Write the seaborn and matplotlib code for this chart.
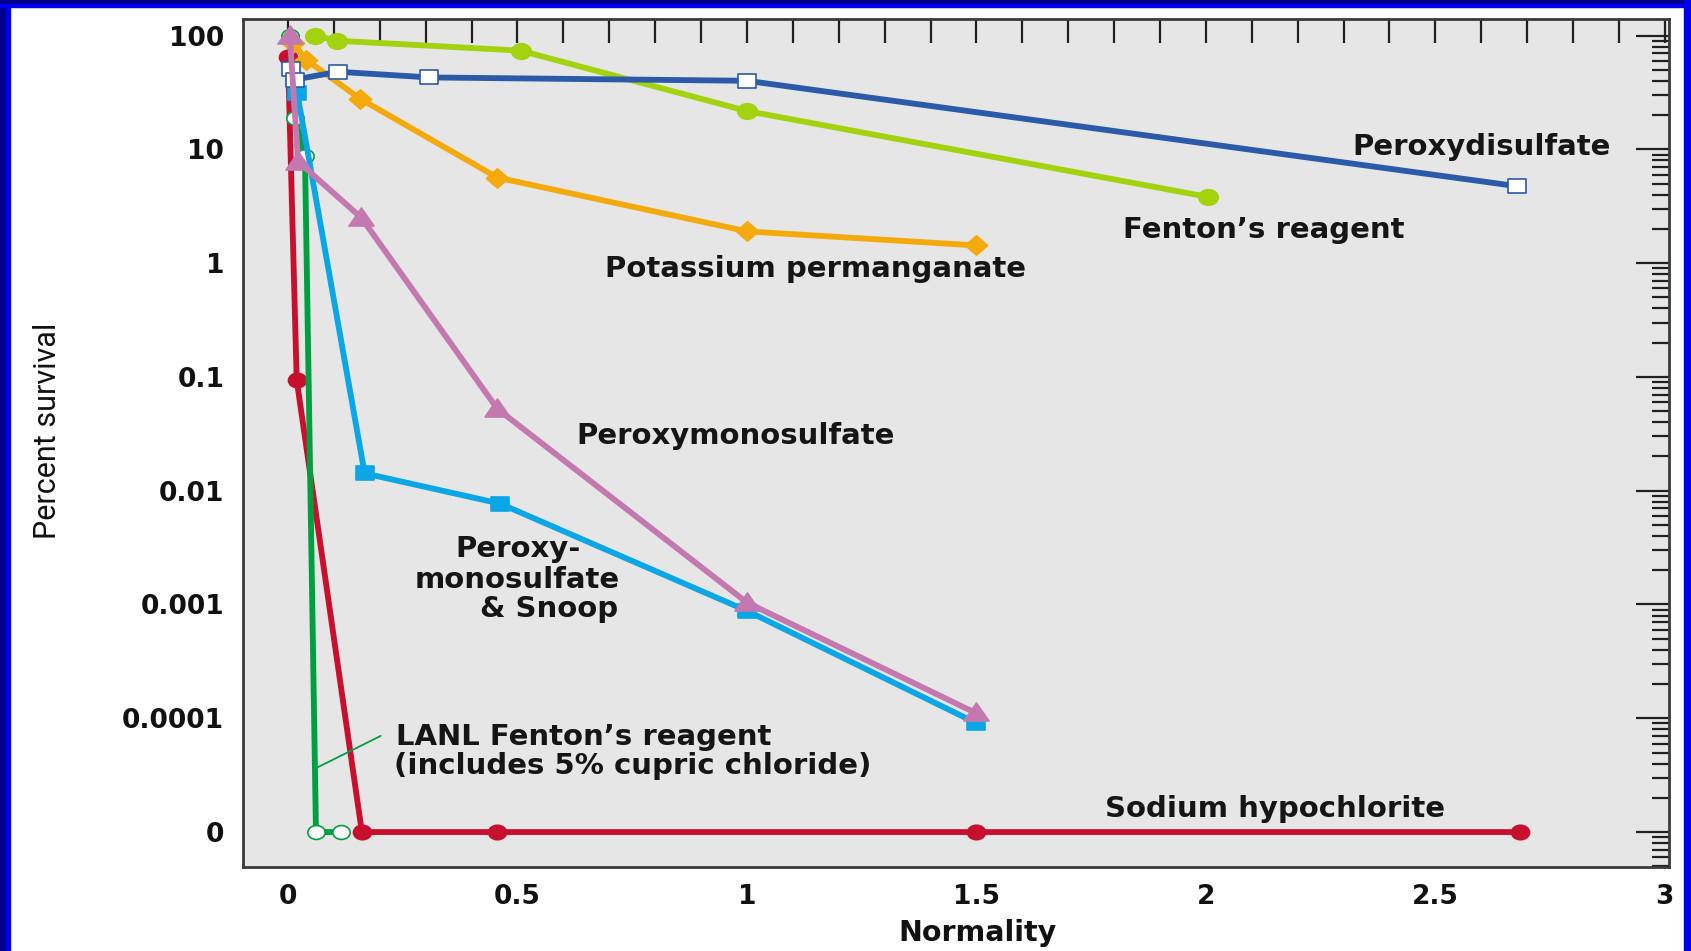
import numpy as np
import pandas as pd
import matplotlib
matplotlib.use("Agg")
import matplotlib.pyplot as plt
import seaborn as sns
from matplotlib.patches import Rectangle
from matplotlib.path import Path
from matplotlib.ticker import FixedLocator, FixedFormatter

# ---------------- data ----------------
fenton_x = [0.059, 0.107, 0.507, 1.00, 2.004]
fenton_y = [100, 90, 73.6, 21.7, 3.82]

pds_x = [0.007, 0.015, 0.109, 0.308, 1.00, 2.678]
pds_y = [51, 41, 48, 42.8, 40, 4.74]

kmno4_x = [0.011, 0.04, 0.157, 0.456, 1.00, 1.499]
kmno4_y = [86, 61, 27.8, 5.65, 1.9, 1.43]

pms_x = [0.004, 0.022, 0.16, 0.456, 1.00, 1.499]
pms_y = [100, 7.8, 2.5, 0.0525, 0.00104, 0.000111]

snoop_x = [0.02, 0.167, 0.462, 1.00, 1.499]
snoop_y = [31.5, 0.0142, 0.0077, 0.00088, 0.000091]

naocl_x = [0.0, 0.019, 0.161, 0.455, 1.499, 2.685]
naocl_y = [65, 0.094, 0, 0, 0, 0]

lanl_x = [0.004, 0.015, 0.037, 0.061, 0.115]
lanl_y = [100, 18.8, 8.7, 0, 0]

y_tick_values = [100, 10, 1, 0.1, 0.01, 0.001, 0.0001, 0]
y_tick_labels = ["100", "10", "1", "0.1", "0.01", "0.001", "0.0001", "0"]
x_tick_values = [0, 0.5, 1, 1.5, 2, 2.5, 3]
x_tick_labels = ["0", "0.5", "1", "1.5", "2", "2.5", "3"]

ZERO_LEVEL = 1e-5   # position of the "0" row on the log axis

series = {
    "Sodium hypochlorite": (naocl_x, naocl_y),
    "LANL Fenton's reagent": (lanl_x, lanl_y),
    "Peroxymonosulfate & Snoop": (snoop_x, snoop_y),
    "Potassium permanganate": (kmno4_x, kmno4_y),
    "Fenton's reagent": (fenton_x, fenton_y),
    "Peroxydisulfate": (pds_x, pds_y),
    "Peroxymonosulfate": (pms_x, pms_y),
}

rows = []
for name, (xs, ys) in series.items():
    for xv, yv in zip(xs, ys):
        rows.append({"series": name, "Normality": xv, "survival": yv,
                     "plot_y": yv if yv > 0 else ZERO_LEVEL})
df = pd.DataFrame(rows)

# ---------------- marker shapes ----------------
circ = Path.unit_circle()
ellipse = Path(circ.vertices * np.array([1.25, 1.0]), circ.codes)
rect = Path([(-1.25, -1), (1.25, -1), (1.25, 1), (-1.25, 1), (-1.25, -1)],
            [Path.MOVETO, Path.LINETO, Path.LINETO, Path.LINETO, Path.CLOSEPOLY])
tri = Path([(-1.25, -0.75), (1.25, -0.75), (0, 1.05), (-1.25, -0.75)],
           [Path.MOVETO, Path.LINETO, Path.LINETO, Path.CLOSEPOLY])
diam = Path([(-1.15, 0), (0, 1), (1.15, 0), (0, -1), (-1.15, 0)],
            [Path.MOVETO, Path.LINETO, Path.LINETO, Path.LINETO, Path.CLOSEPOLY])

styles = {
    "Sodium hypochlorite": dict(color="#c8102e", marker=ellipse, ms=13, mfc="#c8102e", mec="#c8102e", z=3),
    "LANL Fenton's reagent": dict(color="#00a040", marker=ellipse, ms=12.5, mfc="white", mec="#00a040", z=4),
    "Peroxymonosulfate & Snoop": dict(color="#0aa6e6", marker=rect, ms=13, mfc="#0aa6e6", mec="#0aa6e6", z=5),
    "Potassium permanganate": dict(color="#f4aa0c", marker=diam, ms=16, mfc="#f4aa0c", mec="#f4aa0c", z=6),
    "Fenton's reagent": dict(color="#a3d20f", marker=ellipse, ms=14, mfc="#a3d20f", mec="#a3d20f", z=7),
    "Peroxydisulfate": dict(color="#2b5ba8", marker=rect, ms=13, mfc="white", mec="#2b5ba8", z=8),
    "Peroxymonosulfate": dict(color="#c478b0", marker=tri, ms=18, mfc="#c478b0", mec="#c478b0", z=9),
}

# ---------------- figure ----------------
sns.set_theme(style="white")
plt.rcParams['font.family'] = ['DejaVu Sans']

W, H = 1691, 951
fig = plt.figure(figsize=(W / 100, H / 100), dpi=100)
fig.patch.set_facecolor("white")
ax = fig.add_axes([243 / W, 1 - 867 / H, (1669 - 243) / W, (867 - 19) / H])
ax.set_facecolor("#e6e6e6")
ax.set_yscale("log")

for name in series:
    st = styles[name]
    sub = df[df["series"] == name]
    sns.lineplot(data=sub, x="Normality", y="plot_y", ax=ax, estimator=None, sort=False,
                 color=st["color"], lw=4.2, marker=st["marker"], markersize=st["ms"],
                 markerfacecolor=st["mfc"], markeredgecolor=st["mec"],
                 markeredgewidth=1.2, zorder=st["z"], solid_joinstyle="round",
                 solid_capstyle="round", legend=False)

ax.set_xlim(-0.098, 3.009)
ax.set_ylim(10 ** -5.307, 10 ** 2.145)

ymaj = [v if v > 0 else ZERO_LEVEL for v in y_tick_values]
ax.yaxis.set_major_locator(FixedLocator(ymaj))
ax.yaxis.set_major_formatter(FixedFormatter(y_tick_labels))
lo, hi = ax.get_ylim()
yminor = [k * 10.0 ** d for d in range(-7, 3) for k in range(2, 10)
          if lo <= k * 10.0 ** d <= hi]
ax.yaxis.set_minor_locator(FixedLocator(yminor))
ax.xaxis.set_major_locator(FixedLocator(x_tick_values))
ax.xaxis.set_major_formatter(FixedFormatter(x_tick_labels))
ax.xaxis.set_minor_locator(FixedLocator([round(0.1 * i, 1) for i in range(0, 31)]))

ax.tick_params(axis="both", which="both", direction="in", top=True, right=True,
               color="#202020", width=1.6)
ax.tick_params(axis="y", which="major", length=24, pad=13.5)
ax.tick_params(axis="y", which="minor", length=12)
ax.tick_params(axis="x", which="both", length=17, pad=12)
for lab in ax.get_xticklabels() + ax.get_yticklabels():
    lab.set_fontsize(19)
    lab.set_fontweight("bold")
    lab.set_color("#111111")

for sp in ax.spines.values():
    sp.set_color("#3a3a3a")
    sp.set_linewidth(2)

ax.set_xlabel("Normality", fontsize=20.5, fontweight="bold", color="#111111")
ax.xaxis.set_label_coords(0.515, -0.078)
ax.xaxis.label.set_va("center")
ax.set_ylabel("Percent survival", fontsize=22, color="#111111",
              family=["Roboto", "DejaVu Sans"])
ax.yaxis.set_label_coords(-0.137, 0.514)
ax.yaxis.label.set_va("center")

# ---------------- annotations ----------------
tk = dict(fontsize=21, fontweight="bold", color="#151515", va="center", ha="left", zorder=10)
ax.text(2.319, 10.5, "Peroxydisulfate", **tk)
ax.text(1.82, 1.94, "Fenton\u2019s reagent", **tk)
ax.text(0.69, 0.89, "Potassium permanganate", **tk)
ax.text(0.629, 0.0305, "Peroxymonosulfate", **tk)
ax.text(0.364, 0.00305, "Peroxy-", **tk)
ax.text(0.275, 0.00165, "monosulfate", **tk)
ax.text(0.418, 0.00092, "& Snoop", **tk)
ax.text(0.235, 6.9e-5, "LANL Fenton\u2019s reagent", **tk)
ax.text(0.23, 3.8e-5, "(includes 5% cupric chloride)", **tk)
ax.text(1.78, 1.6e-5, "Sodium hypochlorite", **tk)
ax.plot([0.066, 0.202], [3.73e-5, 7.0e-5], color="#00a040", lw=1.3, zorder=4)

# ---------------- slide frame ----------------
def frect(x0, y0, w, h, c):
    fig.patches.append(Rectangle((x0 / W, 1 - (y0 + h) / H), w / W, h / H,
                                 transform=fig.transFigure, color=c, zorder=0))

frect(0, 0, 6, H, "#00008b")
frect(6, 0, 4, H, "#0000f0")
frect(0, 0, W, 3.5, "#00008b")
frect(0, 3.5, W, 3.5, "#0000f0")
frect(W - 7, 0, 7, H, "#0000f0")

fig.savefig("out.png", dpi=100, facecolor=fig.get_facecolor())
